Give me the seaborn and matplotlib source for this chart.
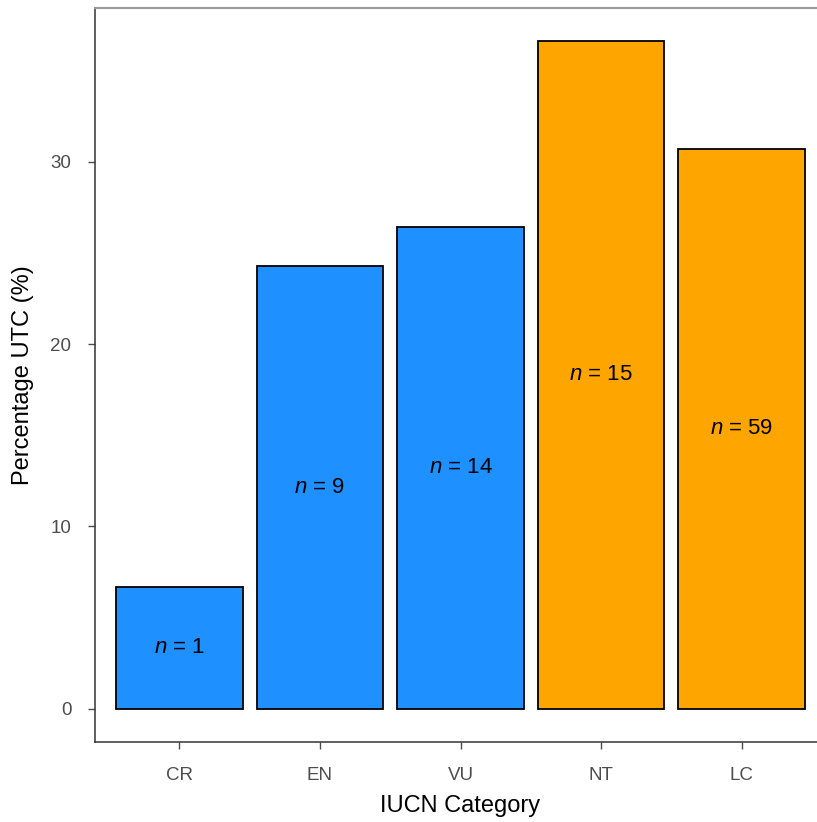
import matplotlib
matplotlib.use("Agg")
import matplotlib.pyplot as plt
import seaborn as sns
import pandas as pd

categories = ["CR", "EN", "VU", "NT", "LC"]
pct_utc = [6.67, 24.3, 26.4, 36.6, 30.7]
n_species = [1, 9, 14, 15, 59]
bar_colors = ["#1E90FF", "#1E90FF", "#1E90FF", "#FFA500", "#FFA500"]

df = pd.DataFrame({"cat": categories, "pct": pct_utc, "n": n_species})

sns.set_style("white")
plt.rcParams["font.family"] = ["Liberation Sans", "DejaVu Sans"]
plt.rcParams["mathtext.fontset"] = "custom"
plt.rcParams["mathtext.it"] = "Liberation Sans:italic"
plt.rcParams["mathtext.rm"] = "Liberation Sans"

fig = plt.figure(figsize=(8.17, 8.22), dpi=100)
ax = fig.add_axes([95 / 817, 80 / 822, 731 / 817, 734 / 822])

sns.barplot(data=df, x="cat", y="pct", hue="cat", palette=bar_colors,
            width=0.9, edgecolor="black", linewidth=1.3, saturation=1,
            legend=False, ax=ax)

for i, row in df.iterrows():
    ax.text(i, row["pct"] / 2, r"$\it{n}$ = %d" % row["n"], ha="center",
            va="center", fontsize=16, color="black")

ax.set_xlim(-0.6, 4.6)
ax.set_ylim(-1.83, 38.43)
ax.set_yticks([0, 10, 20, 30])
ax.set_xlabel("IUCN Category", fontsize=17, labelpad=8, color="black")
ax.set_ylabel("Percentage UTC (%)", fontsize=17, labelpad=12, color="black")
ax.tick_params(axis="both", labelsize=13.5, colors="#4d4d4d", length=5,
               width=1, direction="out", bottom=True, left=True, pad=12)
ax.tick_params(axis="x", pad=13)

for s in ["left", "bottom"]:
    ax.spines[s].set_color("#333333")
    ax.spines[s].set_linewidth(1.1)
ax.spines["top"].set_color("#999999")
ax.spines["top"].set_linewidth(1.5)
ax.spines["right"].set_visible(False)

fig.savefig("out.png", dpi=100)
